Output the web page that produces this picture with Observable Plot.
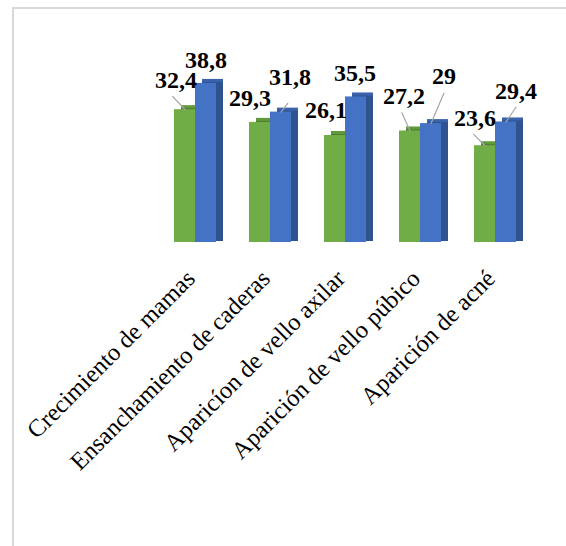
<!DOCTYPE html>
<html><head><meta charset="utf-8">
<script src="https://cdn.jsdelivr.net/npm/d3@7"></script>
<script src="https://cdn.jsdelivr.net/npm/@observablehq/plot@0.6"></script>
<style>
html,body{margin:0;padding:0;background:#fff;}
#wrap{position:relative;width:566px;height:546px;overflow:hidden;}
#frame{position:absolute;left:12px;top:7px;right:-10px;bottom:-10px;border-top:2px solid #d9d9d9;border-left:2px solid #d9d9d9;}
#chart{position:absolute;left:0;top:0;}
</style></head><body>
<div id="wrap"><div id="frame"></div><div id="chart"></div></div>
<script>
// ---- data ----
const categories = ["Crecimiento de mamas", "Ensanchamiento de caderas", "Aparicíon de vello axilar", "Aparición de vello púbico", "Aparición de acné"];
const seriesNames = ["Serie 1", "Serie 2"];
const serie1 = [32.4, 29.3, 26.1, 27.2, 23.6];
const serie2 = [38.8, 31.8, 35.5, 29, 29.4];

// ---- layout (label placement, not data) ----
const labelOffsets = [ // [dx, dy] per bar, order: cat0 s1, cat0 s2, cat1 s1, ...
  [-9, -22], [0, -15],
  [-10, -16], [9, -27],
  [-9, -17], [-1, -16],
  [-6, -27], [13, -40],
  [-10, -20], [10, -23]
];
const leaders = { // index -> [rotate, length]
  0: [-43, 18],
  3: [38, 11],
  6: [-24, 20],
  7: [23, 33],
  8: [-45, 16],
  9: [34, 18]
};

const rows = [];
categories.forEach((c, i) => {
  rows.push({cat: c, serie: seriesNames[0], value: serie1[i]});
  rows.push({cat: c, serie: seriesNames[1], value: serie2[i]});
});

const front = {[seriesNames[0]]: "#70ad47", [seriesNames[1]]: "#4472c4"};
const top_ = {[seriesNames[0]]: "#609a3b", [seriesNames[1]]: "#3b63ad"};
const side = {[seriesNames[0]]: "#4f7a31", [seriesNames[1]]: "#2f5391"};
const fmt = v => String(v).replace(".", ",");

const marks = [
  Plot.barY(rows, {fx: "cat", x: "serie", y: "value", fill: d => top_[d.serie], dx: 7, dy: -4}),
  Plot.barY(rows, {fx: "cat", x: "serie", y: "value", fill: d => side[d.serie], dx: 7, dy: -1}),
  Plot.barY(rows, {fx: "cat", x: "serie", y: "value", fill: d => front[d.serie]}),
  Plot.axisFx({anchor: "bottom", tickRotate: -45, tickSize: 0, tickPadding: 32, dx: -4, fontSize: 24.5, label: null, fontFamily: "Liberation Serif", fill: "#000"})
];
rows.forEach((d, i) => {
  if (leaders[i]) {
    marks.push(Plot.vector([d], {fx: "cat", x: "serie", y: "value", rotate: leaders[i][0], length: leaders[i][1], anchor: "start", shape: "spike", r: 0, stroke: "#a6a6a6", strokeWidth: 1.2, fill: "none"}));
  }
  marks.push(Plot.text([d], {fx: "cat", x: "serie", y: "value", text: r => fmt(r.value), dx: labelOffsets[i][0], dy: labelOffsets[i][1], lineAnchor: "bottom", fontSize: 24, fontWeight: "bold", fontFamily: "Liberation Serif", fill: "#000"}));
});

const chart = Plot.plot({
  width: 566,
  height: 546,
  marginLeft: 155,
  marginRight: 32,
  marginTop: 78,
  marginBottom: 304,
  style: {fontFamily: "Liberation Serif", background: "transparent"},
  fx: {domain: categories, paddingInner: 0, paddingOuter: 0, label: null},
  x: {domain: seriesNames, paddingInner: 0, paddingOuter: 0.76, axis: null},
  y: {domain: [0, 40], axis: null},
  marks
});
document.getElementById("chart").appendChild(chart);
</script>
</body></html>
